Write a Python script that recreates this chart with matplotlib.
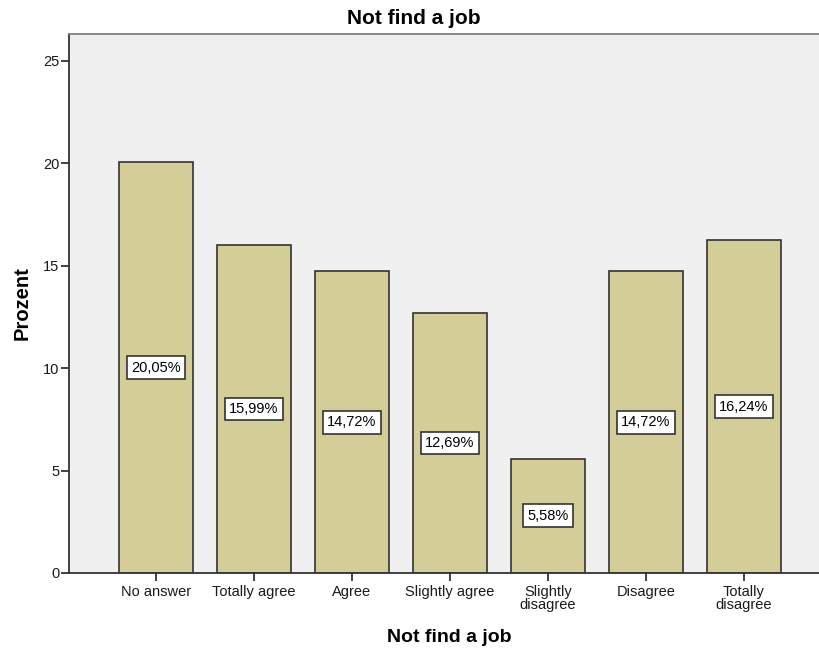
import matplotlib
matplotlib.use("Agg")
import matplotlib.pyplot as plt

categories = ["No answer", "Totally agree", "Agree", "Slightly agree",
              "Slightly\ndisagree", "Disagree", "Totally\ndisagree"]
percent = [20.05, 15.99, 14.72, 12.69, 5.58, 14.72, 16.24]
yticks = [0, 5, 10, 15, 20, 25]

FONT = "Liberation Sans"
EDGE = "#333333"

fig = plt.figure(figsize=(8.2, 6.52), dpi=100)
ax = fig.add_axes([0.0841, 0.1212, 0.9159, 0.8267])
ax.set_facecolor("#f0f0f0")

x = range(len(categories))
ax.bar(x, percent, width=0.755, color="#d3ce98", edgecolor=EDGE, linewidth=1.2)

# Beschriftung in der Mitte jeder Säule
for xi, v in zip(x, percent):
    ax.text(xi, v / 2, f"{v:.2f}%".replace(".", ","), ha="center", va="center",
            fontsize=10.5, family=FONT,
            bbox=dict(boxstyle="square,pad=0.3", facecolor="white", edgecolor=EDGE, linewidth=1.2))

ax.set_xlim(-0.888, 6.776)
ax.set_ylim(0, 26.3)
ax.set_xticks(list(x))
ax.set_xticklabels(categories, fontsize=10.5, family=FONT, linespacing=0.9)
ax.set_yticks(yticks)
ax.set_yticklabels([str(t) for t in yticks], fontsize=10.5, family=FONT)
ax.tick_params(axis="both", length=5.5, width=1.3, color=EDGE, pad=1.5, labelcolor="#1a1a1a")
ax.tick_params(axis="x", pad=3.5)

for side in ("left", "bottom"):
    ax.spines[side].set_color(EDGE)
    ax.spines[side].set_linewidth(1.3)
ax.spines["top"].set_color("#808080")
ax.spines["top"].set_linewidth(1.3)
ax.spines["right"].set_visible(False)

ax.set_title("Not find a job", fontsize=15, fontweight="bold", family=FONT, x=0.459, pad=7)
ax.set_xlabel("Not find a job", fontsize=14, fontweight="bold", family=FONT, labelpad=12, x=0.506)
ax.set_ylabel("Prozent", fontsize=14.5, fontweight="bold", family=FONT, labelpad=8)

fig.savefig("out.png", dpi=100)
